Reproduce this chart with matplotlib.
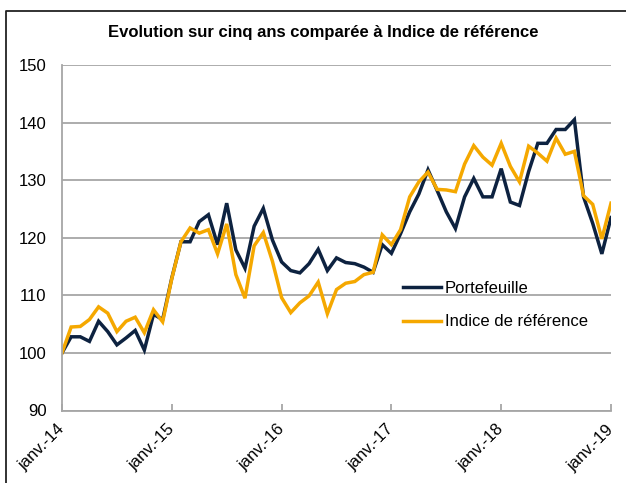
import matplotlib
matplotlib.use("Agg")
import matplotlib.pyplot as plt
from matplotlib.lines import Line2D

plt.rcParams['font.family'] = ['Liberation Sans', 'DejaVu Sans']

title = "Evolution sur cinq ans comparée à Indice de référence"
series_names = ["Portefeuille", "Indice de référence"]
tick_labels = ["janv.-14", "janv.-15", "janv.-16", "janv.-17", "janv.-18", "janv.-19"]
y_ticks = [90, 100, 110, 120, 130, 140, 150]

portefeuille = [
    100.0, 102.8, 102.8, 102.0, 105.5, 103.7, 101.4, 102.6, 103.9, 100.5, 106.7, 105.8,
    113.0, 119.3, 119.3, 122.8, 124.0, 118.8, 126.0, 117.9, 114.7, 122.0, 125.1, 119.6,
    115.8, 114.3, 113.9, 115.5, 118.0, 114.3, 116.5, 115.7, 115.5, 114.9, 114.0, 118.8,
    117.3, 120.7, 124.5, 127.6, 131.8, 128.2, 124.5, 121.6, 127.1, 130.3, 127.1, 127.1,
    132.0, 126.2, 125.6, 131.5, 136.4, 136.4, 138.8, 138.8, 140.5, 127.1, 122.5, 117.2,
    123.5,
]
indice = [
    100.0, 104.5, 104.6, 105.8, 108.0, 106.9, 103.7, 105.5, 106.2, 103.5, 107.5, 105.4,
    112.9, 119.3, 121.7, 120.8, 121.4, 117.2, 122.4, 113.6, 109.5, 118.6, 120.9, 115.9,
    109.6, 107.0, 108.7, 109.9, 112.3, 106.8, 111.0, 112.1, 112.4, 113.6, 114.0, 120.5,
    118.8, 121.4, 127.1, 129.7, 131.4, 128.4, 128.3, 128.0, 132.8, 136.0, 134.0, 132.6,
    136.4, 132.4, 129.7, 135.9, 134.7, 133.3, 137.3, 134.5, 135.0, 127.3, 125.8, 119.8,
    126.0,
]

navy = "#0d2240"
orange = "#f5a800"
grid_gray = "#a6a6a6"

W, H = 626, 483
fig = plt.figure(figsize=(W / 100, H / 100), dpi=100)
ax = fig.add_axes([62 / W, 1 - 410.5 / H, 549 / W, 345.5 / H])

months = list(range(len(portefeuille)))
ax.plot(months, portefeuille, color=navy, lw=2.5, label=series_names[0], solid_joinstyle='miter')
ax.plot(months, indice, color=orange, lw=2.5, label=series_names[1], solid_joinstyle='miter')

ax.set_xlim(0, len(months) - 1)
ax.set_ylim(y_ticks[0], y_ticks[-1])
ax.set_yticks(y_ticks)
ax.yaxis.grid(True, color=grid_gray, lw=1.3)
ax.set_axisbelow(True)
for s in ["top", "right"]:
    ax.spines[s].set_visible(False)
for s in ["left", "bottom"]:
    ax.spines[s].set_color(grid_gray)
    ax.spines[s].set_linewidth(1.3)
ax.tick_params(axis='y', length=0, pad=11, labelsize=12)
ax.set_xticks([12 * i for i in range(len(tick_labels))])
ax.set_xticklabels(tick_labels, rotation=45, ha='right', va='center', rotation_mode='anchor', fontsize=12)
ax.tick_params(axis='x', direction='in', length=5, color=grid_gray, width=1.3, pad=12)

fig.text(323 / W, 1 - 33 / H, title, ha='center', va='center', fontsize=12, fontweight='bold')

leg = ax.legend(loc='upper left', bbox_to_anchor=(403 / W, 1 - 281 / H), bbox_transform=fig.transFigure,
                frameon=False, fontsize=12, handlelength=2.3, handletextpad=0.2,
                labelspacing=1.1, borderaxespad=0, borderpad=0)

# outer frame
fig.add_artist(Line2D([5.5 / W, 5.5 / W, 1.0], [0.0, 1 - 11 / H, 1 - 11 / H],
                      transform=fig.transFigure, color="#222222", lw=1.3))

fig.savefig("out.png", dpi=100)
